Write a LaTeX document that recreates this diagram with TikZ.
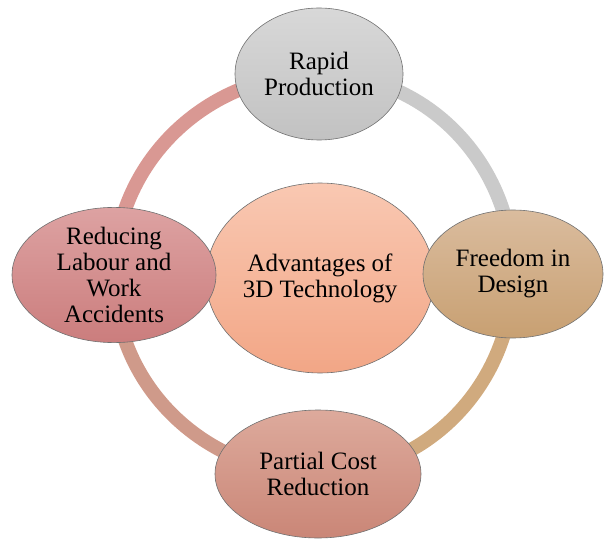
\documentclass[tikz,border=0pt]{standalone}
\usepackage{fontspec}
\setmainfont{Liberation Serif}
\usetikzlibrary{shapes.geometric,backgrounds}

\definecolor{rimline}{HTML}{707070}
\definecolor{grayTop}{HTML}{D8D8D8}
\definecolor{grayBot}{HTML}{C2C2C2}
\definecolor{roseTop}{HTML}{DDA2A2}
\definecolor{roseBot}{HTML}{CB7D7D}
\definecolor{tanTop}{HTML}{DABC9E}
\definecolor{tanBot}{HTML}{C8A072}
\definecolor{clayTop}{HTML}{DDAA9C}
\definecolor{clayBot}{HTML}{CA8677}
\definecolor{peachTop}{HTML}{F9C8B2}
\definecolor{peachBot}{HTML}{F2A686}
\definecolor{ringRose}{HTML}{D99893}
\definecolor{ringGray}{HTML}{CACACA}
\definecolor{ringTan}{HTML}{D0AA7E}
\definecolor{ringClay}{HTML}{CF9A8A}

\tikzset{
  bubble/.style={ellipse, draw=rimline, line width=0.6pt, inner sep=0pt,
    align=center, font=\fontsize{25}{26}\selectfont},
  ringarc/.style={line width=14pt},
}

\begin{document}
\begin{tikzpicture}[x=1pt,y=-1pt]
  \useasboundingbox (0,0) rectangle (604,540);

  % hub
  \node[bubble, minimum width=228pt, minimum height=190pt,
        top color=peachTop, bottom color=peachBot] (hub) at (320,278)
        {Advantages of\\3D Technology};

  % surrounding benefits
  \node[bubble, minimum width=168pt, minimum height=132pt,
        top color=grayTop, bottom color=grayBot] (rapid) at (319,74)
        {Rapid\\Production};
  \node[bubble, minimum width=180pt, minimum height=128pt,
        top color=tanTop, bottom color=tanBot] (freedom) at (513,274)
        {Freedom in\\Design};
  \node[bubble, minimum width=206pt, minimum height=128pt,
        top color=clayTop, bottom color=clayBot] (cost) at (318,474)
        {Partial Cost\\Reduction};
  \node[bubble, minimum width=204pt, minimum height=130pt,
        top color=roseTop, bottom color=roseBot] (labour) at (114,275)
        {Reducing\\Labour and\\Work\\Accidents};

  % cycle ring behind the bubbles (angles are page directions)
  \begin{scope}[on background layer]
    \draw[ringarc, ringRose] (labour.center) to[out=90,in=180] (rapid.center);
    \draw[ringarc, ringGray] (rapid.center) to[out=0,in=90] (freedom.center);
    \draw[ringarc, ringTan] (freedom.center) to[out=-90,in=0] (cost.center);
    \draw[ringarc, ringClay] (cost.center) to[out=180,in=-90] (labour.center);
  \end{scope}
\end{tikzpicture}
\end{document}
